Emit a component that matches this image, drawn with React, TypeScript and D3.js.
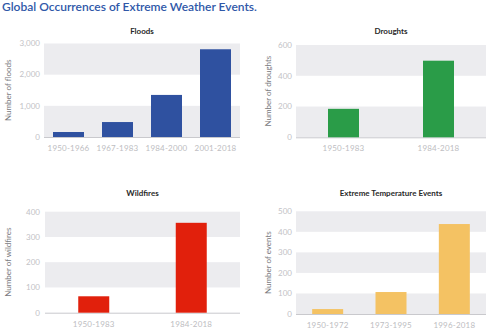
import React from "react";
import * as d3 from "d3";

const floodCategories = ["1950-1966", "1967-1983", "1984-2000", "2001-2018"];
const floodValues = [160, 480, 1350, 2815];
const floodTicks = [0, 1000, 2000, 3000];

const droughtCategories = ["1950-1983", "1984-2018"];
const droughtValues = [185, 498];
const droughtTicks = [0, 200, 400, 600];

const wildfireCategories = ["1950-1983", "1984-2018"];
const wildfireValues = [65, 356];
const wildfireTicks = [0, 100, 200, 300, 400];

const tempCategories = ["1950-1972", "1973-1995", "1996-2018"];
const tempValues = [24, 107, 438];
const tempTicks = [0, 100, 200, 300, 400, 500];

const FONT = "Lato, 'Open Sans', sans-serif";

type PanelProps = {
  title: string;
  yLabel: string;
  categories: string[];
  values: number[];
  ticks: number[];
  color: string;
  x0: number;
  x1: number;
  yTop: number;
  yBottom: number;
  titleY: number;
  yLabelX: number;
  tickX: number;
};

function Panel(p: PanelProps) {
  const max = p.ticks[p.ticks.length - 1];
  const y = d3.scaleLinear().domain([0, max]).range([p.yBottom, p.yTop]);
  const n = p.categories.length;
  const step = (p.x1 - p.x0) / n;
  const x = d3
    .scaleBand<string>()
    .domain(p.categories)
    .range([p.x0, p.x1])
    .paddingInner(1 - 31 / step)
    .paddingOuter((1 - 31 / step) / 2);
  const bands: [number, number][] = [];
  for (let i = p.ticks.length - 1; i > 0; i -= 2) {
    bands.push([p.ticks[i], p.ticks[i - 1]]);
  }
  const fmt = d3.format(",");
  return (
    <g>
      {bands.map(([a, b], i) => (
        <rect key={i} x={p.x0} width={p.x1 - p.x0} y={y(a)} height={y(b) - y(a)} fill="#ececef" />
      ))}
      <line x1={p.x0} x2={p.x1} y1={p.yBottom + 0.5} y2={p.yBottom + 0.5} stroke="#c9c9cd" strokeWidth={1} />
      {p.categories.map((c, i) => (
        <rect
          key={c}
          x={x(c)}
          width={x.bandwidth()}
          y={y(p.values[i])}
          height={y(0) - y(p.values[i])}
          fill={p.color}
        />
      ))}
      {p.ticks.map((t) => (
        <text
          key={t}
          x={p.tickX}
          y={y(t)}
          dy="0.35em"
          textAnchor="end"
          fontSize={8}
          fill="#c2c2c6"
          fontFamily={FONT}
        >
          {fmt(t)}
        </text>
      ))}
      {p.categories.map((c) => (
        <text
          key={c}
          x={(x(c) as number) + x.bandwidth() / 2}
          y={p.yBottom + 14}
          textAnchor="middle"
          fontSize={8}
          fill="#bdbdc1"
          fontFamily={FONT}
          letterSpacing={0.2}
        >
          {c}
        </text>
      ))}
      <text
        x={(p.x0 + p.x1) / 2}
        y={p.titleY}
        textAnchor="middle"
        fontSize={8}
        fontWeight="bold"
        fill="#2a2a2a"
        fontFamily={FONT}
      >
        {p.title}
      </text>
      <text
        transform={`translate(${p.yLabelX},${(p.yTop + p.yBottom) / 2}) rotate(-90)`}
        textAnchor="middle"
        fontSize={8}
        fill="#7a7a7e"
        fontFamily={FONT}
      >
        {p.yLabel}
      </text>
    </g>
  );
}

export default function App() {
  return (
    <svg
      width={500}
      height={335}
      style={{ position: "absolute", left: 0, top: 0, background: "#fff" }}
    >
      <text x={2} y={11} fontSize={12} fontWeight={600} fill="#2f58a8" fontFamily={FONT}>
        Global Occurrences of Extreme Weather Events.
      </text>
      <Panel
        title="Floods"
        yLabel="Number of floods"
        categories={floodCategories}
        values={floodValues}
        ticks={floodTicks}
        color="#2f51a0"
        x0={44}
        x1={240}
        yTop={43.5}
        yBottom={137}
        titleY={34}
        yLabelX={11}
        tickX={40}
      />
      <Panel
        title="Droughts"
        yLabel="Number of droughts"
        categories={droughtCategories}
        values={droughtValues}
        ticks={droughtTicks}
        color="#2a9c48"
        x0={296}
        x1={486}
        yTop={45}
        yBottom={137.3}
        titleY={34}
        yLabelX={271}
        tickX={292}
      />
      <Panel
        title="Wildfires"
        yLabel="Number of wildfires"
        categories={wildfireCategories}
        values={wildfireValues}
        ticks={wildfireTicks}
        color="#e1200c"
        x0={45}
        x1={240}
        yTop={211.7}
        yBottom={312.7}
        titleY={196}
        yLabelX={11}
        tickX={40}
      />
      <Panel
        title="Extreme Temperature Events"
        yLabel="Number of events"
        categories={tempCategories}
        values={tempValues}
        ticks={tempTicks}
        color="#f4c263"
        x0={296}
        x1={486}
        yTop={211.3}
        yBottom={314}
        titleY={196}
        yLabelX={271}
        tickX={292}
      />
    </svg>
  );
}
